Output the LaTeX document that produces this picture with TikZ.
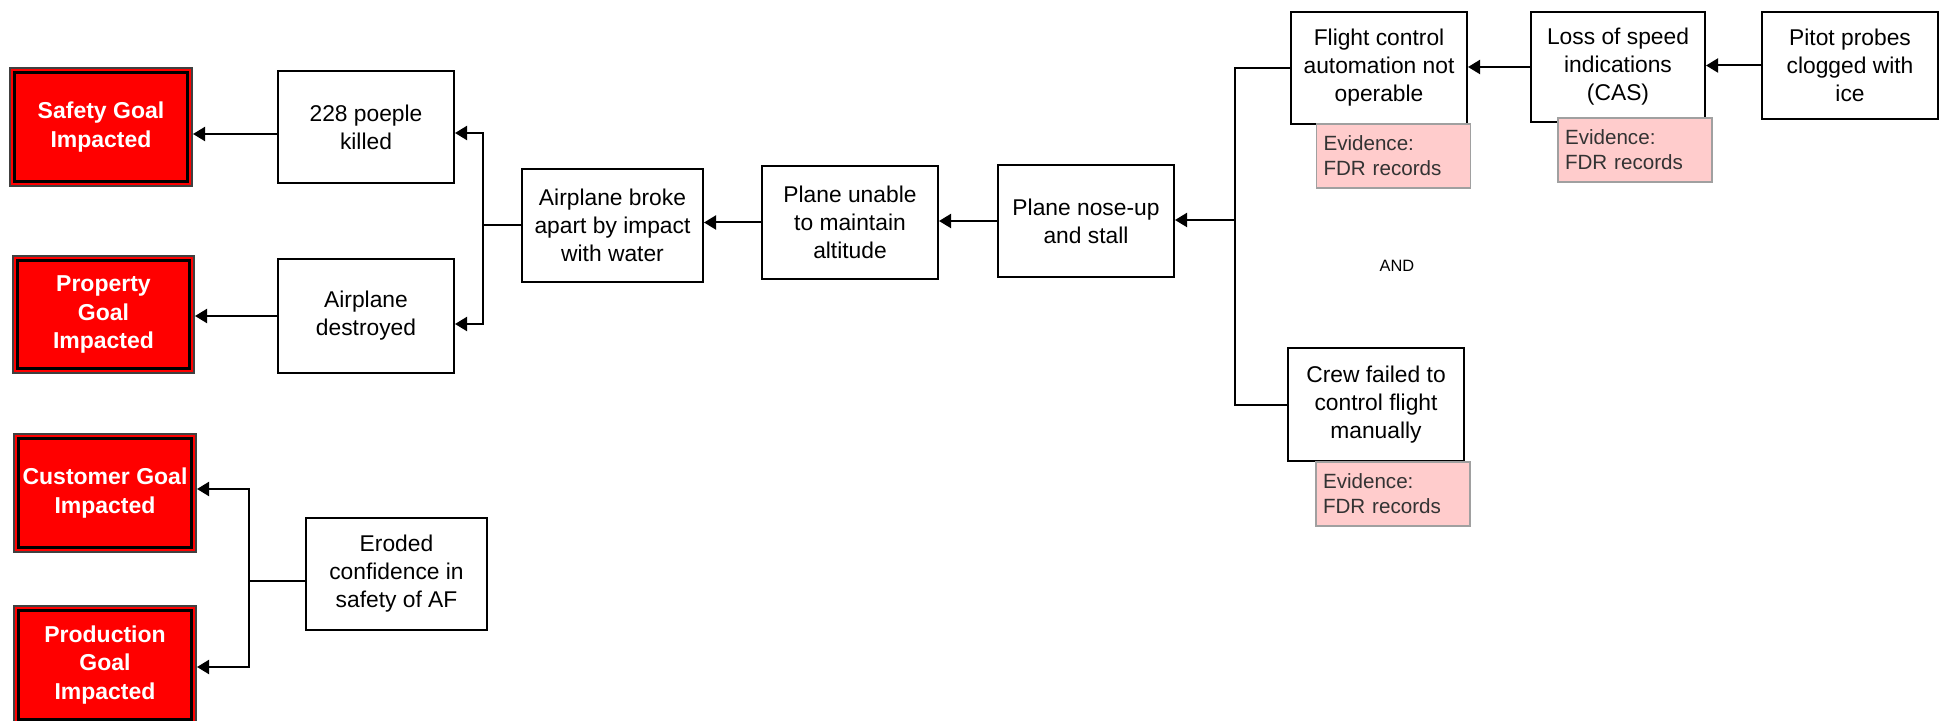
\documentclass[tikz,border=0pt]{standalone}
\usepackage{fontspec}
\setmainfont{Liberation Sans}
\usetikzlibrary{arrows.meta,calc}

\definecolor{goalred}{HTML}{FF0000}
\definecolor{evfill}{HTML}{FFCCCC}
\definecolor{evline}{HTML}{A0A0A0}
\definecolor{evtext}{HTML}{333333}

\begin{document}
\begin{tikzpicture}[x=0.5pt,y=-0.5pt,
  box/.style={draw=black, line width=1pt, fill=white, align=center,
    inner sep=0pt, text=black, font=\fontsize{11.4}{14}\selectfont},
  goal/.style={draw=black!75, line width=1pt, fill=goalred, align=center,
    inner sep=0pt, text=white, font=\bfseries\fontsize{11.5}{14.4}\selectfont,
    minimum width=91pt, minimum height=59pt,
    path picture={\draw[black, line width=1.4pt]
      ([shift={(2.3pt,2.3pt)}]path picture bounding box.south west) rectangle
      ([shift={(-2.3pt,-2.3pt)}]path picture bounding box.north east);}},
  evidence/.style={draw=evline, line width=0.8pt, fill=evfill, align=left,
    inner xsep=3.5pt, inner ysep=0pt, text width=70pt, minimum height=32pt,
    text=evtext, font=\fontsize{10.3}{12.5}\selectfont},
  arrow/.style={line width=1pt, -{Triangle[length=6pt,width=7pt]}},
  link/.style={line width=1pt}]

\useasboundingbox (0,0) rectangle (1942,721);
\clip (0,0) rectangle (1942,721);

% goals
\node[goal] (safety) at (101,127) {Safety Goal\\Impacted};
\node[goal, minimum width=90.5pt, minimum height=58.5pt] (property) at (103.5,314.5) {Property\\Goal\\Impacted};
\node[goal] (customer) at (105,493) {Customer Goal\\Impacted};
\node[goal] (production) at (105,665) {Production\\Goal\\Impacted};

% consequences
\node[box, minimum width=88pt, minimum height=56pt] (killed) at (366,127) {228 poeple\\killed};
\node[box, minimum width=88pt, minimum height=57pt] (destroyed) at (366,316) {Airplane\\destroyed};
\node[box, minimum width=90.5pt, minimum height=56pt] (eroded) at (396.5,574) {Eroded\\confidence in\\safety of AF};

% event chain
\node[box, minimum width=90.5pt, minimum height=56.5pt] (broke) at (612.5,225.5) {Airplane broke\\apart by impact\\with water};
\node[box, minimum width=88pt, minimum height=56.5pt] (unable) at (850,222.5) {Plane unable\\to maintain\\altitude};
\node[box, minimum width=88pt, minimum height=56pt] (noseup) at (1086,221) {Plane nose-up\\and stall};

% causes
\node[box, minimum width=88pt, minimum height=56pt] (flight) at (1379,68) {Flight control\\automation not\\operable};
\node[box, minimum width=87pt, minimum height=55pt] (loss) at (1618,67) {Loss of speed\\indications\\(CAS)};
\node[box, minimum width=88pt, minimum height=53.5pt] (pitot) at (1850,65.5) {Pitot probes\\clogged with\\ice};
\node[box, minimum width=88pt, minimum height=56.5pt] (crew) at (1376,404.5) {Crew failed to\\control flight\\manually};

% evidence notes
\node[evidence] (ev1) at (1393.5,156) {Evidence:\\FDR records};
\node[evidence] (ev2) at (1635,150) {Evidence:\\FDR records};
\node[evidence] (ev3) at (1393,494) {Evidence:\\FDR records};

\node[font=\fontsize{8.2}{10}\selectfont] (and) at (1397,266) {AND};

% consequence to goal links
\draw[arrow] ($(killed.west)+(0,7)$) -- ($(safety.east)+(0,7)$);
\draw[arrow] (destroyed.west) -- (destroyed.west -| property.east);

\coordinate (busL) at (483,225.5);
\draw[link] (broke.west) -- (busL);
\draw[arrow] (busL) |- ($(killed.east)+(0,6)$);
\draw[arrow] (busL) |- ($(destroyed.east)+(0,8)$);

\coordinate (busG) at (249,581);
\draw[link] ($(eroded.west)+(0,7)$) -- (busG);
\draw[arrow] (busG) |- ($(customer.east)+(0,-4)$);
\draw[arrow] (busG) |- ($(production.east)+(0,2)$);

% event chain links
\draw[arrow] (unable.west) -- (unable.west -| broke.east);
\draw[arrow] (noseup.west) -- (noseup.west -| unable.east);

\coordinate (busR) at (1235,220);
\draw[link] (flight.west) -| (busR) |- (crew.west);
\draw[arrow] (busR) -- (busR -| noseup.east);

\draw[arrow] (loss.west) -- (loss.west -| flight.east);
\draw[arrow] (pitot.west) -- (pitot.west -| loss.east);

\end{tikzpicture}
\end{document}
